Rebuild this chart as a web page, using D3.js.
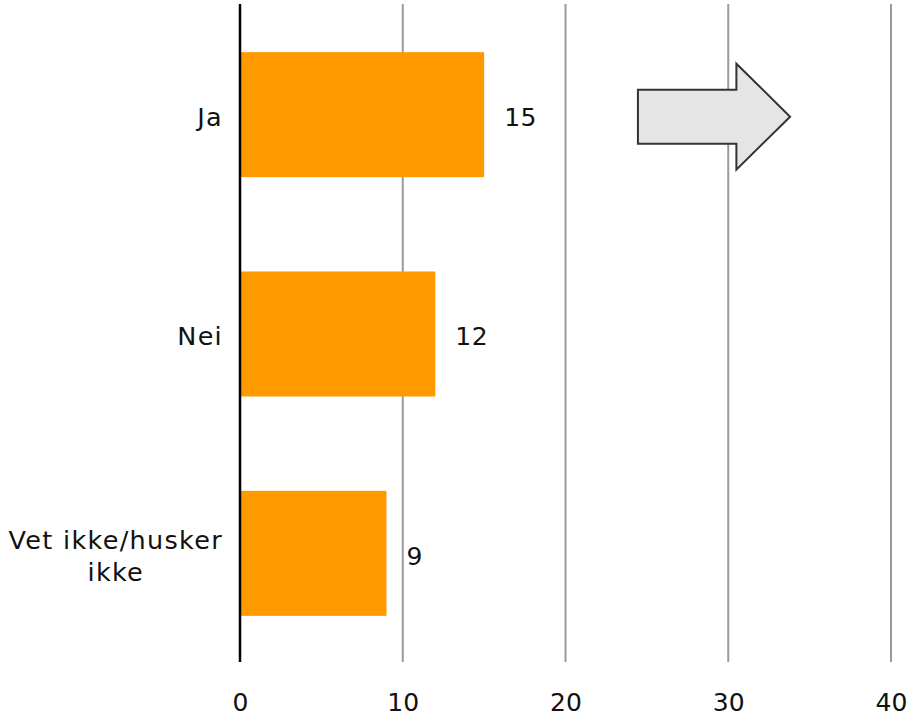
<!DOCTYPE html>
<html>
<head>
<meta charset="utf-8">
<script src="https://cdn.jsdelivr.net/npm/d3@7"></script>
<style>
  html, body { margin: 0; padding: 0; background: #fff; }
  svg { display: block; }
  text { font-family: "DejaVu Sans", Verdana, sans-serif; fill: #111; }
</style>
</head>
<body>
<svg id="chart" width="909" height="717"></svg>
<script>
// Answer categories (lines of each label) and their values
const categories = [["Ja"], ["Nei"], ["Vet ikke/husker", "ikke"]];
const values = [15, 12, 9];
const xTicks = [0, 10, 20, 30, 40];

const plot = { left: 240, right: 891, top: 4, bottom: 662 };

const svg = d3.select("#chart");

const x = d3.scaleLinear().domain([0, 40]).range([plot.left, plot.right]);
const y = d3.scaleBand()
  .domain(d3.range(categories.length))
  .range([plot.top, plot.bottom])
  .paddingInner(0.43)
  .paddingOuter(0.215);

// vertical gridlines (zero is drawn as the axis line)
svg.append("g")
  .selectAll("line")
  .data(xTicks.filter(d => d !== 0))
  .join("line")
  .attr("x1", d => x(d)).attr("x2", d => x(d))
  .attr("y1", plot.top).attr("y2", plot.bottom)
  .attr("stroke", "#9a9a9a")
  .attr("stroke-width", 2);

// bars
svg.append("g")
  .selectAll("rect")
  .data(values)
  .join("rect")
  .attr("x", x(0))
  .attr("y", (d, i) => y(i) + 1)
  .attr("width", d => x(d) - x(0))
  .attr("height", y.bandwidth())
  .attr("fill", "#ff9900");

// zero axis line
svg.append("line")
  .attr("x1", x(0)).attr("x2", x(0))
  .attr("y1", plot.top).attr("y2", plot.bottom)
  .attr("stroke", "#000")
  .attr("stroke-width", 2.5);

// x tick labels
const xAxis = d3.axisBottom(x).tickValues(xTicks).tickSize(0).tickPadding(0);
const gx = svg.append("g").attr("transform", `translate(0,${plot.bottom})`).call(xAxis);
gx.select(".domain").remove();
gx.selectAll("text")
  .attr("y", 49)
  .attr("dy", null)
  .style("font-size", "25px")
  .style("font-family", '"DejaVu Sans", Verdana, sans-serif')
  .attr("fill", "#111");

// value labels
svg.append("g")
  .selectAll("text")
  .data(values)
  .join("text")
  .attr("x", d => x(d) + 20)
  .attr("y", (d, i) => y(i) + 1 + y.bandwidth() / 2)
  .attr("dy", "0.45em")
  .style("font-size", "25px")
  .style("letter-spacing", "0.5px")
  .text(d => d);

// category labels: right-aligned block, lines centred within it
const lineH = 32;
const labelRight = 223;
const gl = svg.append("g");
categories.forEach((lines, i) => {
  const cy = y(i) + 1 + y.bandwidth() / 2;
  const t = gl.append("text")
    .style("font-size", "25.5px")
    .style("letter-spacing", "1.3px")
    .attr("text-anchor", "middle");
  const spans = lines.map((ln, j) => t.append("tspan")
    .attr("y", cy + (j - (lines.length - 1) / 2) * lineH)
    .attr("dy", "0.45em")
    .text(ln));
  const maxW = d3.max(spans, s => s.node().getComputedTextLength());
  spans.forEach(s => s.attr("x", labelRight - maxW / 2));
});

// block arrow annotation
const ay = y(0) + y.bandwidth() / 2 + 3;
const arrow = [
  [x(24.45), ay - 27],
  [x(30.5), ay - 27],
  [x(30.5), ay - 53],
  [x(33.8), ay],
  [x(30.5), ay + 53],
  [x(30.5), ay + 27],
  [x(24.45), ay + 27]
];
svg.append("path")
  .attr("d", d3.line()(arrow) + "Z")
  .attr("fill", "#e5e5e5")
  .attr("stroke", "#333")
  .attr("stroke-width", 2)
  .attr("stroke-linejoin", "miter");
</script>
</body>
</html>
